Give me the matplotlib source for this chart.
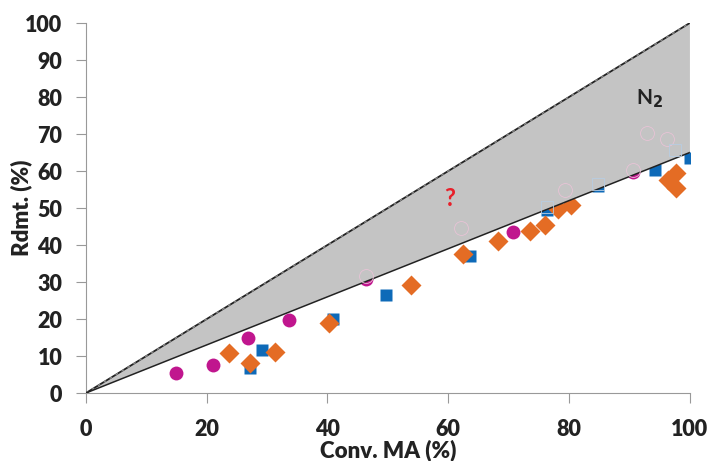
import matplotlib.pyplot as plt
from matplotlib.patches import Polygon

plt.rcParams['font.family'] = ['Lato', 'DejaVu Sans']

# Data
circ_x = [14.9, 21.0, 26.8, 33.6, 46.4, 70.7, 90.6]
circ_y = [5.3, 7.7, 14.9, 19.8, 30.8, 43.6, 59.8]
sq_x = [27.2, 29.1, 40.9, 49.7, 63.6, 76.3, 84.8, 94.2, 100.0]
sq_y = [6.8, 11.7, 20.0, 26.5, 37.0, 49.6, 56.0, 60.2, 63.4]
dia_x = [23.7, 27.2, 31.3, 40.2, 53.8, 62.4, 68.2, 73.6, 76.1, 78.1, 80.3, 96.4, 97.8, 97.8]
dia_y = [10.8, 8.2, 11.1, 18.9, 29.2, 37.6, 41.0, 43.7, 45.5, 49.8, 50.9, 57.6, 59.4, 55.4]
ghost_c_x = [46.4, 62.1, 79.3, 90.6, 92.9, 96.2]
ghost_c_y = [31.6, 44.6, 54.9, 60.3, 70.3, 68.6]
ghost_s_x = [76.3, 84.8, 97.5]
ghost_s_y = [50.4, 56.4, 65.7]

# N2 zone: between y = x and y = 0.65 x
zone_x = [0, 100, 100]
zone_y = [0, 100, 65]

fig = plt.figure(figsize=(7.14, 4.61), dpi=100)
ax = fig.add_axes([0.1204, 0.1475, 0.8456, 0.8025])

ax.plot(circ_x, circ_y, 'o', color='#C0168E', ms=10, mec='none', zorder=2)
ax.plot(sq_x, sq_y, 's', color='#0E6AB8', ms=9, mec='none', zorder=2)
ax.plot(dia_x, dia_y, 'D', color='#E46C24', ms=10.5, mec='none', zorder=2)

poly = Polygon(list(zip(zone_x, zone_y)), closed=True, facecolor='#C4C4C4',
               edgecolor='none', zorder=3)
ax.add_patch(poly)
ax.plot(zone_x[:2], zone_y[:2], color='#222222', lw=1.3, zorder=4)
ax.plot(zone_x[:2], zone_y[:2], color='#888888', lw=1.0, ls=(0, (2, 3)), zorder=4)
ax.plot([zone_x[0], zone_x[2]], [zone_y[0], zone_y[2]], color='#222222', lw=1.1, zorder=4)
ax.plot(zone_x[1:], zone_y[1:], color='#9a9a9a', lw=1.0, zorder=4)

ax.plot(ghost_c_x, ghost_c_y, 'o', mfc='none', mec='#E8C3D6', ms=10, mew=0.6, zorder=5)
ax.plot(ghost_s_x, ghost_s_y, 's', mfc='none', mec='#B8CDE2', ms=9, mew=0.6, zorder=5)

ax.text(60.3, 52.5, '?', color='#E8202A', fontsize=17, fontweight='bold',
        ha='center', va='center', zorder=6)
ax.text(93.3, 79.5, 'N$_\\mathbf{2}$', color='#222222', fontsize=15, fontweight='bold',
        ha='center', va='center', zorder=6)

ax.set_xlim(0, 100)
ax.set_ylim(0, 100)
ax.set_xticks([0, 20, 40, 60, 80, 100])
ax.set_yticks(range(0, 101, 10))
for s in ['top', 'right']:
    ax.spines[s].set_visible(False)
for s in ['left', 'bottom']:
    ax.spines[s].set_color('#999999')
ax.tick_params(direction='out', length=7, color='#999999', labelsize=15.5,
               labelcolor='#222222')
ax.tick_params(axis='y', pad=10)
ax.tick_params(axis='x', pad=12)
for lab in ax.get_xticklabels() + ax.get_yticklabels():
    lab.set_fontweight('heavy')

ax.set_xlabel('Conv. MA (%)', fontsize=16, fontweight='heavy', color='#222222', labelpad=-1)
ax.set_ylabel('Rdmt. (%)', fontsize=16, fontweight='heavy', color='#222222', labelpad=-5)

fig.savefig('out.png', dpi=100)
